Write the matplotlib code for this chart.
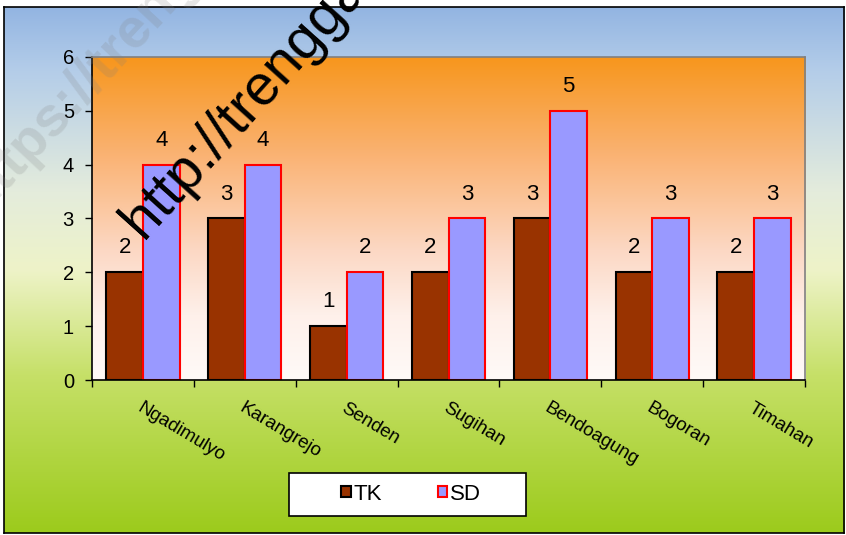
import numpy as np
import matplotlib
import matplotlib.pyplot as plt
from matplotlib.colors import LinearSegmentedColormap
from matplotlib.patches import Patch, Rectangle

matplotlib.use("Agg")
plt.rcParams["font.family"] = ["Liberation Sans", "DejaVu Sans"]

# data
villages = ["Ngadimulyo", "Karangrejo", "Senden", "Sugihan", "Bendoagung", "Bogoran", "Timahan"]
tk = [2, 3, 1, 2, 3, 2, 2]
sd = [4, 4, 2, 3, 5, 3, 3]

W, H = 846, 535
fig = plt.figure(figsize=(W / 100, H / 100), dpi=100)

# outer chart background
bg = fig.add_axes([4 / W, 2 / H, 840 / W, 526 / H], zorder=0)
outer_cmap = LinearSegmentedColormap.from_list("outer", [
    (0.0, "#93b5e2"), (0.12, "#b4cde9"), (0.35, "#e4ecdc"),
    (0.5, "#eef3c8"), (0.7, "#c6e068"), (1.0, "#9ccb1c")])
bg.imshow(np.linspace(0, 1, 256).reshape(-1, 1), cmap=outer_cmap, aspect="auto",
          extent=(0, 1, 0, 1), origin="upper")
bg.set_xticks([]); bg.set_yticks([])
for s in bg.spines.values():
    s.set_color("black"); s.set_linewidth(1.2)

# plot area
ax = fig.add_axes([92 / W, (H - 380) / H, 713 / W, 323 / H], zorder=1)
inner_cmap = LinearSegmentedColormap.from_list("inner", [
    (0.0, "#f7961c"), (0.3, "#fab272"), (0.6, "#fcd8c4"),
    (0.8, "#fef0ea"), (1.0, "#fffaf8")])
ax.imshow(np.linspace(0, 1, 256).reshape(-1, 1), cmap=inner_cmap, aspect="auto",
          extent=(-0.5, 6.5, 0, 6), origin="upper", zorder=0)

x = np.arange(len(villages))
bw = 0.36
ax.bar(x - bw, tk, width=bw, align="edge", color="#993300", edgecolor="black", lw=1.5, zorder=2)
ax.bar(x, sd, width=bw, align="edge", color="#9999ff", edgecolor="#ff0000", lw=1.5, zorder=2)

for i in range(len(villages)):
    ax.annotate(str(tk[i]), (x[i] - bw / 2, tk[i]), xytext=(0, 10), textcoords="offset points",
                ha="center", va="bottom", fontsize=16, zorder=3)
    ax.annotate(str(sd[i]), (x[i] + bw / 2, sd[i]), xytext=(0, 10), textcoords="offset points",
                ha="center", va="bottom", fontsize=16, zorder=3)

ax.set_xlim(-0.5, 6.5)
ax.set_ylim(0, 6)
ax.set_yticks(range(7))
ax.tick_params(axis="y", labelsize=14.5, length=5, width=1, direction="out", pad=8)
ax.set_xticks(x)
ax.set_xticklabels(villages, rotation=-31, ha="left", rotation_mode="anchor", fontsize=13.5)
ax.tick_params(axis="x", length=0, pad=14)
ax.set_xticks(np.arange(-0.5, 7, 1), minor=True)
ax.tick_params(axis="x", which="minor", length=5, width=1, direction="out")
for side in ["left", "bottom"]:
    ax.spines[side].set_color("black"); ax.spines[side].set_linewidth(1.2)
for side in ["top", "right"]:
    ax.spines[side].set_color("#808080"); ax.spines[side].set_linewidth(1.2)

# legend with square frame
fig.add_artist(Rectangle((289 / W, (H - 516) / H), 237 / W, 43 / H, transform=fig.transFigure,
                         facecolor="white", edgecolor="black", lw=1.2, zorder=2))
handles = [Patch(facecolor="#993300", edgecolor="black", lw=1.5, label="TK"),
           Patch(facecolor="#9999ff", edgecolor="#ff0000", lw=1.5, label="SD")]
leg = fig.legend(handles=handles, loc="center", bbox_to_anchor=(411 / W, 1 - 494 / H), ncol=2,
                 frameon=False, fontsize=16, handlelength=0.42, handleheight=0.42,
                 handletextpad=0.12, columnspacing=2.5)
leg.set_zorder(3)

# watermarks
fig.text(-20 / W, 1 - 215 / H, "https://trenggalek", rotation=47, fontsize=40, color="#808080",
         alpha=0.2, ha="left", va="baseline", rotation_mode="anchor", fontweight="bold", zorder=5)
fig.text(143 / W, 1 - 240 / H, "http://trenggalek", rotation=48, fontsize=41, color="black",
         ha="left", va="baseline", rotation_mode="anchor", zorder=5)

fig.savefig("out.png", dpi=100)
